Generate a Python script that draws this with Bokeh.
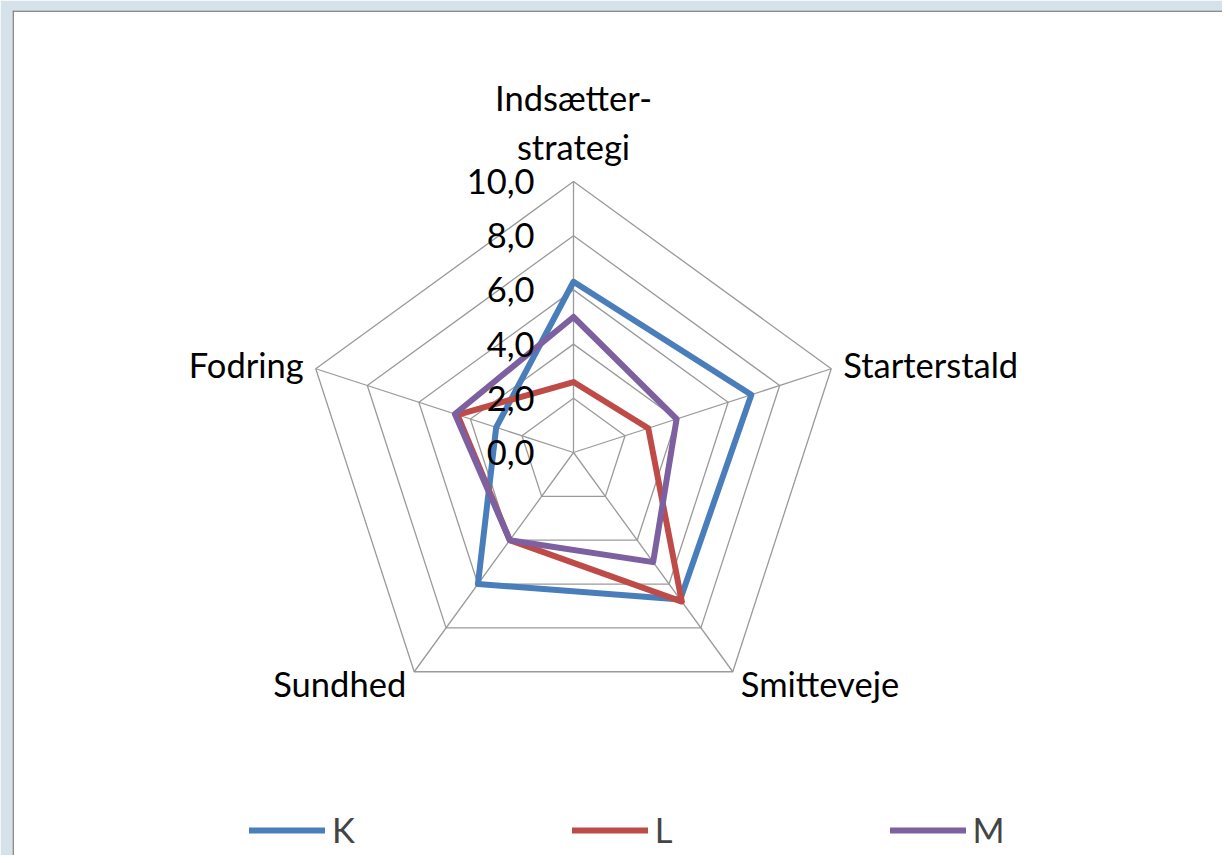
import numpy as np
from bokeh.plotting import figure
from bokeh.models import Range1d, Legend, LegendItem, Span
from bokeh.embed import file_html
from bokeh.resources import INLINE
from bokeh.core.properties import value

categories = ["Indsætter-\nstrategi", "Starterstald", "Smitteveje", "Sundhed", "Fodring"]
series_names = ["K", "L", "M"]
K = [6.3, 6.9, 6.7, 6.0, 3.0]
L = [2.6, 2.9, 6.8, 4.0, 4.5]
M = [5.0, 4.0, 5.0, 4.0, 4.6]
tick_values = [0, 2, 4, 6, 8, 10]
tick_labels = ["0,0", "2,0", "4,0", "6,0", "8,0", "10,0"]
colors = ["#4A7EBB", "#BE4B48", "#7D60A0"]

FONT = "Lato"
FS = "34.5px"
max_val = 10.0

# layout (pixels, relative to the figure's top-left)
b_left, b_top = 12, 10
frame_w, frame_h = 1222 - b_left, 855 - b_top
scale = 27.1           # px per value unit
cx, cy = 573 - b_left, 452 - b_top  # center inside frame

x_range = Range1d(-cx / scale, (frame_w - cx) / scale)
y_range = Range1d(-(frame_h - cy) / scale, cy / scale)

p = figure(frame_width=frame_w, frame_height=frame_h, x_range=x_range, y_range=y_range,
           x_axis_type=None, y_axis_type=None, output_backend="svg", toolbar_location=None,
           min_border_left=b_left, min_border_top=b_top, min_border_right=0, min_border_bottom=0,
           background_fill_color="white", border_fill_color="#D5E2EA", outline_line_color=None)
p.grid.visible = False

n = len(categories)
theta = np.pi / 2 - 2 * np.pi * np.arange(n) / n
cs, sn = np.cos(theta), np.sin(theta)

# grid rings
ring_xs, ring_ys = [], []
for t in tick_values[1:]:
    ring_xs.append(list(np.append(t * cs, t * cs[0])))
    ring_ys.append(list(np.append(t * sn, t * sn[0])))
p.multi_line(ring_xs, ring_ys, line_color="#9A9A9A", line_width=1.3)
# spokes
p.segment(x0=np.zeros(n), y0=np.zeros(n), x1=max_val * cs, y1=max_val * sn,
          line_color="#9A9A9A", line_width=1.3)

# series
renderers = []
for name, vals, col in zip(series_names, [K, L, M], colors):
    v = np.array(vals, dtype=float)
    xs = np.append(v * cs, v[0] * cs[0])
    ys = np.append(v * sn, v[0] * sn[0])
    r = p.line(xs, ys, line_color=col, line_width=6, line_join="round", line_cap="round")
    renderers.append(r)

# tick labels
p.text(x=[0] * len(tick_values), y=tick_values, text=tick_labels, text_align="right",
       text_baseline="middle", x_offset=-39, text_font=value(FONT), text_font_size=FS,
       text_color="#000000")

# category labels
lx = max_val * cs
ly = max_val * sn
aligns = ["center", "left", "left", "right", "right"]
baselines = ["bottom", "middle", "top", "top", "middle"]
xoffs = [0, 12, 8, -8, -12]
yoffs = [-14, -4, -9, -9, -4]
for i in range(n):
    p.text(x=[lx[i]], y=[ly[i]], text=[categories[i]], text_align=aligns[i],
           text_baseline=baselines[i], x_offset=xoffs[i], y_offset=yoffs[i],
           text_font=value(FONT), text_font_size=FS, text_color="#000000",
           text_line_height=1.2)

# frame edge lines (top/left)
p.add_layout(Span(location=x_range.start, dimension="height", line_color="#8C8C8C", line_width=3))
p.add_layout(Span(location=y_range.end, dimension="width", line_color="#8C8C8C", line_width=3))

legend = Legend(items=[LegendItem(label=nm, renderers=[r]) for nm, r in zip(series_names, renderers)],
                orientation="horizontal", location=(249 - b_left, 5),
                glyph_width=76, glyph_height=24, label_width=0, spacing=217, label_standoff=7,
                padding=0, margin=0, border_line_alpha=0, background_fill_alpha=0,
                label_text_font=FONT, label_text_font_size=FS, label_height=24)
p.add_layout(legend)

open("out.html", "w").write(file_html(p, INLINE))
